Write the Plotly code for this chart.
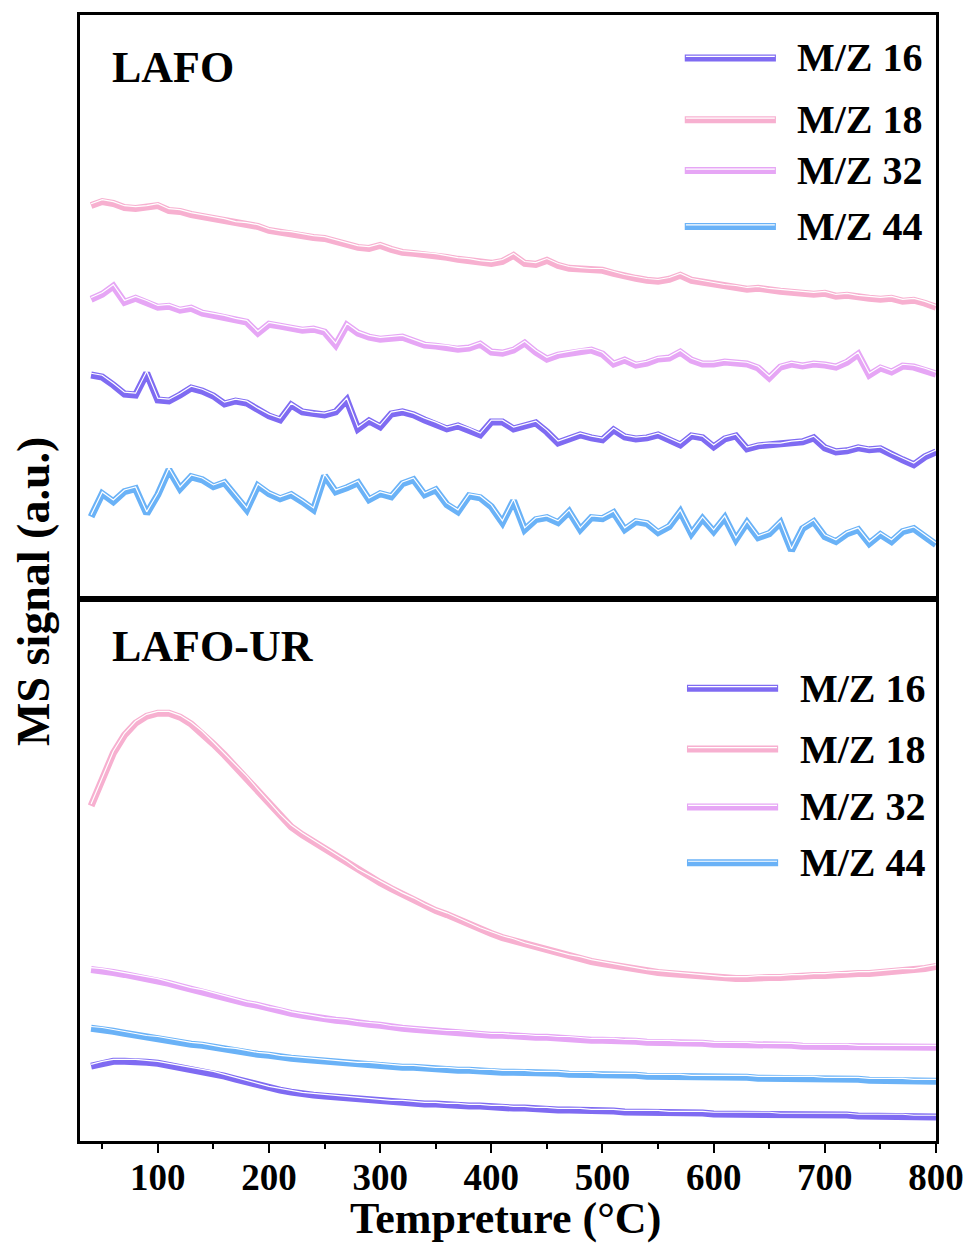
import plotly.graph_objects as go

# Temperature axis (°C)
temperature = list(range(40, 801, 10))

# ---- LAFO (top panel), MS signal in arbitrary units ----
lafo_mz16 = [225, 223, 215, 206, 205, 227, 200, 199, 205, 212,
             209, 204, 196, 199, 197, 190, 184, 180, 195, 188,
             186, 185, 188, 200, 171, 179, 173, 186, 188, 185,
             180, 176, 171, 174, 170, 165, 178, 178, 171, 174,
             177, 168, 157, 161, 165, 162, 160, 170, 163, 161,
             162, 165, 160, 155, 164, 162, 153, 161, 164, 151,
             154, 155, 155, 157, 158, 162, 152, 148, 149, 152,
             150, 151, 145, 140, 135, 143, 148]
lafo_mz18 = [395, 399, 397, 393, 392, 393, 395, 390, 389, 386,
             384, 382, 380, 377, 376, 374, 370, 368, 367, 365,
             363, 362, 359, 356, 353, 352, 355, 351, 348, 347,
             346, 345, 343, 341, 340, 338, 337, 339, 345, 337,
             336, 340, 335, 332, 331, 330, 330, 327, 324, 322,
             320, 319, 321, 325, 320, 318, 316, 314, 313, 311,
             312, 310, 309, 308, 307, 306, 307, 304, 305, 303,
             302, 301, 302, 299, 300, 297, 293]
lafo_mz32 = [301, 306, 314, 298, 302, 298, 293, 294, 290, 292,
             287, 285, 283, 280, 278, 267, 276, 274, 272, 270,
             271, 268, 255, 275, 267, 263, 261, 262, 263, 259,
             255, 254, 253, 251, 252, 256, 248, 247, 250, 257,
             248, 241, 245, 247, 249, 250, 246, 236, 240, 235,
             237, 241, 242, 248, 240, 236, 236, 238, 237, 236,
             232, 222, 233, 236, 234, 236, 235, 233, 238, 246,
             225, 232, 228, 234, 233, 230, 226]
lafo_mz44 = [83, 106, 98, 108, 111, 86, 105, 130, 111, 123,
             120, 113, 117, 103, 90, 114, 106, 101, 105, 98,
             90, 124, 108, 112, 117, 100, 106, 103, 116, 120,
             105, 110, 95, 88, 104, 102, 93, 77, 99, 70,
             80, 82, 77, 88, 70, 82, 81, 87, 70, 78,
             76, 67, 73, 88, 66, 81, 68, 82, 60, 77,
             62, 66, 77, 49, 71, 78, 63, 58, 66, 70,
             56, 65, 58, 68, 71, 63, 55]

# ---- LAFO-UR (bottom panel) ----
ur_mz16 = [75, 78, 80, 80, 80, 79, 78, 76, 74, 72,
           70, 68, 65, 62, 59, 56, 53, 51, 49, 47,
           46, 45, 44, 43, 42, 41, 40, 39, 39, 38,
           37, 37, 36, 36, 35, 35, 34, 34, 33, 33,
           32, 32, 31, 31, 31, 30, 30, 30, 29, 29,
           29, 29, 28, 28, 28, 28, 27, 27, 27, 27,
           27, 27, 26, 26, 26, 26, 26, 26, 26, 25,
           25, 25, 25, 25, 24, 24, 24]
ur_mz18 = [336, 363, 389, 407, 419, 426, 429, 429, 425, 418,
           409, 398, 387, 375, 364, 351, 338, 326, 315, 307,
           300, 293, 286, 279, 271, 265, 259, 253, 247, 242,
           236, 231, 227, 222, 217, 212, 208, 204, 201, 197,
           194, 191, 188, 185, 183, 180, 178, 176, 174, 172,
           170, 169, 168, 167, 166, 165, 164, 163, 163, 163,
           164, 164, 164, 165, 165, 166, 166, 167, 167, 168,
           168, 169, 170, 171, 171, 173, 175]
ur_mz32 = [172, 171, 169, 167, 165, 163, 161, 158, 155, 152,
           150, 147, 144, 141, 138, 136, 133, 131, 128, 126,
           124, 122, 121, 120, 118, 117, 116, 114, 113, 112,
           111, 110, 109, 109, 108, 107, 106, 106, 105, 105,
           104, 104, 103, 103, 102, 101, 101, 101, 100, 100,
           99, 99, 99, 98, 98, 98, 97, 97, 97, 97,
           96, 96, 96, 96, 95, 95, 95, 95, 95, 94,
           94, 94, 94, 94, 94, 94, 94]
ur_mz44 = [113, 112, 110, 108, 106, 104, 103, 101, 99, 97,
           96, 94, 92, 91, 89, 87, 86, 84, 83, 82,
           81, 80, 79, 78, 77, 77, 76, 75, 74, 74,
           73, 72, 72, 71, 71, 70, 70, 69, 69, 69,
           68, 68, 68, 67, 67, 67, 66, 66, 66, 66,
           65, 65, 65, 65, 64, 64, 64, 64, 64, 64,
           63, 63, 63, 63, 63, 63, 62, 62, 62, 62,
           61, 61, 61, 61, 60, 60, 60]

series_names = ["M/Z 16", "M/Z 18", "M/Z 32", "M/Z 44"]
colors = ["#7F6BF2", "#F7B0D0", "#E6A6F5", "#6AB2F7"]
tick_vals = [100, 200, 300, 400, 500, 600, 700, 800]

FONT = "Liberation Serif, Times New Roman, serif"

fig = go.Figure()

top_series = [lafo_mz16, lafo_mz18, lafo_mz32, lafo_mz44]
bot_series = [ur_mz16, ur_mz18, ur_mz32, ur_mz44]

LW = 7
OFF = 1.8

for ys, name, c in zip(top_series, series_names, colors):
    fig.add_trace(go.Scatter(x=temperature, y=ys, mode="lines", name=name,
                             line=dict(color=c, width=LW), xaxis="x2", yaxis="y2",
                             showlegend=False))
    fig.add_trace(go.Scatter(x=temperature, y=[v + OFF for v in ys], mode="lines",
                             line=dict(color="white", width=1.2), xaxis="x2", yaxis="y2",
                             showlegend=False, hoverinfo="skip"))

for ys, name, c in zip(bot_series, series_names, colors):
    fig.add_trace(go.Scatter(x=temperature, y=ys, mode="lines", name=name,
                             line=dict(color=c, width=LW), xaxis="x", yaxis="y",
                             showlegend=False))
    fig.add_trace(go.Scatter(x=temperature, y=[v + OFF for v in ys], mode="lines",
                             line=dict(color="white", width=1.2), xaxis="x", yaxis="y",
                             showlegend=False, hoverinfo="skip"))

ML, MR = 80, 31
PW = 976 - ML - MR
split = 543 / 1129

axis_common = dict(showline=True, mirror=True, linecolor="black", linewidth=2.5,
                   showgrid=False, zeroline=False)

fig.update_layout(
    width=976, height=1245,
    margin=dict(l=ML, r=MR, t=12, b=104),
    paper_bgcolor="white", plot_bgcolor="white",
    xaxis=dict(domain=[0, 1], anchor="y", range=[30, 800], tickvals=tick_vals,
               ticks="outside", ticklen=9, tickwidth=2, tickcolor="black",
               ticklabelstandoff=-7,
               minor=dict(tickvals=[50, 150, 250, 350, 450, 550, 650, 750],
                          ticks="outside", ticklen=5, tickwidth=2, tickcolor="black"),
               tickfont=dict(family=FONT, size=37, color="black", weight="bold"),
               **axis_common),
    yaxis=dict(domain=[0, split], anchor="x", range=[0, 543], showticklabels=False,
               ticks="", **axis_common),
    xaxis2=dict(domain=[0, 1], anchor="y2", range=[30, 800], showticklabels=False,
                ticks="", **axis_common),
    yaxis2=dict(domain=[split, 1], anchor="x2", range=[0, 586], showticklabels=False,
                ticks="", **axis_common),
)

annotations = []
shapes = []

# Panel labels
annotations.append(dict(text="LAFO", xref="x2", yref="y2", x=56.8, y=533,
                        xanchor="left", yanchor="middle", showarrow=False,
                        font=dict(family=FONT, size=44, color="black", weight="bold")))
annotations.append(dict(text="LAFO-UR", xref="x", yref="y", x=56.8, y=496,
                        xanchor="left", yanchor="middle", showarrow=False,
                        font=dict(family=FONT, size=44, color="black", weight="bold")))

# Legends (drawn in axis coordinates)
top_leg_y = [543, 481, 430, 374]
bot_leg_y = [454, 393, 335, 279]
for ly, name, c in zip(top_leg_y, series_names, colors):
    shapes.append(dict(type="line", xref="x2", yref="y2", x0=574, x1=656, y0=ly, y1=ly,
                       line=dict(color=c, width=7)))
    shapes.append(dict(type="line", xref="x2", yref="y2", x0=575, x1=655, y0=ly + 1.5,
                       y1=ly + 1.5, line=dict(color="white", width=1.2)))
    annotations.append(dict(text=name, xref="x2", yref="y2", x=673, y=ly,
                            xanchor="left", yanchor="middle", showarrow=False,
                            font=dict(family=FONT, size=40, color="black", weight="bold")))
for ly, name, c in zip(bot_leg_y, series_names, colors):
    shapes.append(dict(type="line", xref="x", yref="y", x0=576, x1=658, y0=ly, y1=ly,
                       line=dict(color=c, width=7)))
    shapes.append(dict(type="line", xref="x", yref="y", x0=577, x1=657, y0=ly + 1.5,
                       y1=ly + 1.5, line=dict(color="white", width=1.2)))
    annotations.append(dict(text=name, xref="x", yref="y", x=676, y=ly,
                            xanchor="left", yanchor="middle", showarrow=False,
                            font=dict(family=FONT, size=40, color="black", weight="bold")))

# Axis titles
annotations.append(dict(text="Tempreture (°C)", xref="paper", yref="paper",
                        x=(510 - ML) / PW, y=(1141 - 1219) / 1129,
                        xanchor="center", yanchor="middle", showarrow=False,
                        font=dict(family=FONT, size=44, color="black", weight="bold")))
annotations.append(dict(text="MS signal (a.u.)", xref="paper", yref="paper",
                        x=(33 - ML) / PW, y=(1141 - 590) / 1129, textangle=-90,
                        xanchor="center", yanchor="middle", showarrow=False,
                        font=dict(family=FONT, size=46, color="black", weight="bold")))

fig.update_layout(annotations=annotations, shapes=shapes)

fig.write_html("out.html", config={"displayModeBar": False},
               post_script="document.body.style.margin='0';document.body.style.padding='0';")
